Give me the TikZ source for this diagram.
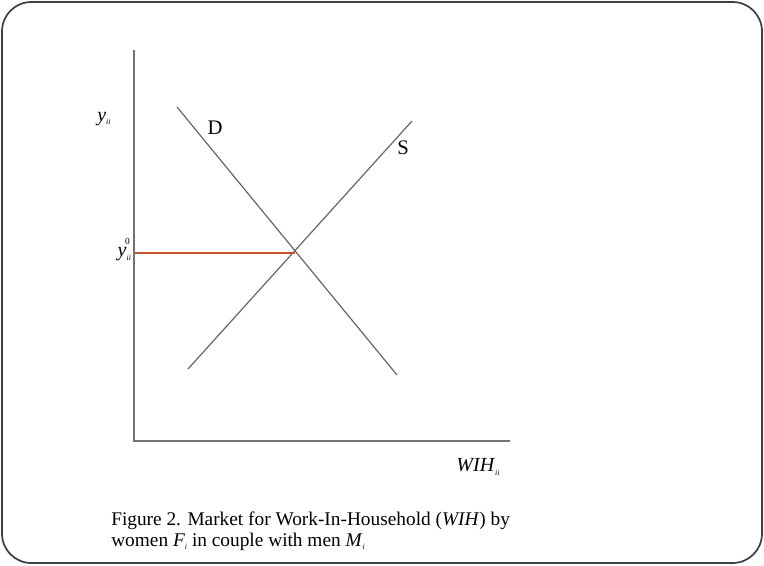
\documentclass[tikz,border=0pt]{standalone}
\usepackage{fontspec}
\setmainfont{Liberation Serif}
\newcommand{\subsm}[1]{\raisebox{-0.35ex}{\fontsize{6}{7}\selectfont\textit{#1}}}
\begin{document}
\begin{tikzpicture}[x=0.75pt,y=-0.75pt,
  axis/.style={draw=black!55,line width=1.4pt},
  curve/.style={draw=black!60,line width=0.9pt},
  lbl/.style={inner sep=0pt,font=\fontsize{15}{17}\selectfont},
  captext/.style={inner sep=0pt,anchor=base west,font=\fontsize{14.5}{17}\selectfont}]
\useasboundingbox (0,0) rectangle (764,565);
\draw[draw=black!75,line width=1.3pt,rounded corners=22pt] (2,2) rectangle (762,563);
\coordinate (ytop) at (134,50);
\coordinate (origin) at (134,441);
\coordinate (xend) at (510,441);
\draw[axis] (ytop) -- (origin) -- (xend);
\coordinate (d1) at (177,107);
\coordinate (d2) at (397,375);
\coordinate (s1) at (188,369);
\coordinate (s2) at (412,121);
\draw[curve] (d1) -- (d2);
\draw[curve] (s1) -- (s2);
\coordinate (eq) at (295,253);
\coordinate (ya) at (135,253);
\draw[draw={rgb,255:red,196;green,84;blue,40},line width=1pt] (ya) -- (eq);
\node[lbl] (ylab) at (104,119) {\textit{y}\subsm{ii}};
\node[lbl,anchor=east] (y0lab) at (130,250) {\textit{y}\subsm{ii}\hspace{-4.5pt}\raisebox{1.3ex}{\fontsize{7}{8}\selectfont 0}};
\node[lbl,font=\fontsize{15.5}{18}\selectfont] (D) at (215,128) {D};
\node[lbl,font=\fontsize{15.5}{18}\selectfont] (S) at (403,148) {S};
\node[lbl] (xlab) at (478,467) {\textit{WIH}\subsm{ii}};
\node[captext] (c1) at (111,525) {Figure 2. Market for Work-In-Household (\textit{WIH}) by};
\node[captext] (c2) at (111,546) {women \textit{F}\subsm{i} in couple with men \textit{M}\subsm{i}};
\end{tikzpicture}
\end{document}
